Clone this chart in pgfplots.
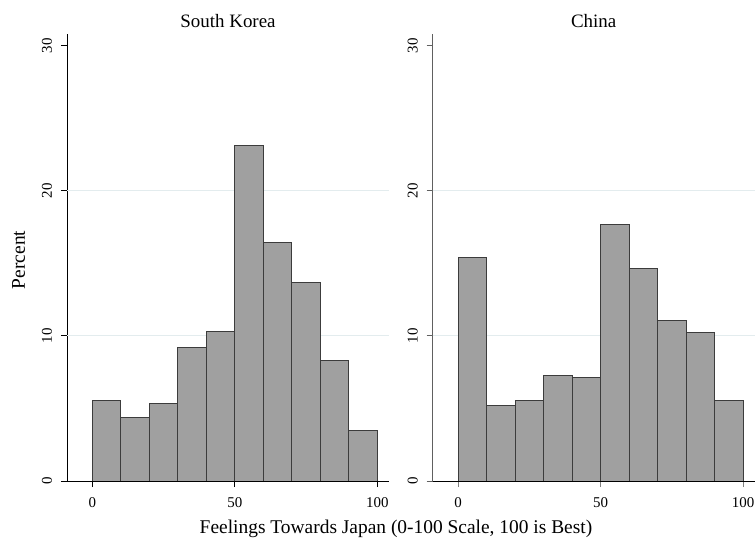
\documentclass[border=0pt]{standalone}
\usepackage{fontspec}
\setmainfont{Liberation Serif}
\usepackage{pgfplots}
\pgfplotsset{compat=1.18}
\definecolor{barfill}{HTML}{A0A0A0}
\definecolor{baredge}{HTML}{3C3C3C}
\definecolor{gridc}{HTML}{E3ECEE}
\definecolor{axgray}{HTML}{606060}
\pgfplotsset{
 panel/.style={
  scale only axis, width=322bp, height=447bp,
  xmin=-8.9, xmax=104.1, ymin=0, ymax=30.8,
  axis x line*=bottom, axis y line*=left,
  axis line style={-, line width=0.9bp},
  xtick={0,50,100}, ytick={0,10,20,30},
  tick align=outside, major tick length=6bp,
  tick style={line width=0.9bp},
  /pgf/number format/assume math mode=true,
  tick label style={font=\fontsize{15}{18}\selectfont},
  xticklabel style={anchor=base, inner sep=0pt},
  xticklabel shift=20bp,
  yticklabel style={rotate=90, anchor=base, inner sep=0pt},
  yticklabel shift=9bp,
  extra y ticks={10,20}, extra y tick labels={},
  extra y tick style={grid=major, major tick length=0pt},
  grid style={gridc, line width=0.8bp},
  title style={font=\fontsize{19}{22}\selectfont, at={(0.5,1)}, anchor=base, yshift=1bp},
 }
}
\begin{document}
\begin{tikzpicture}
\useasboundingbox (-67bp,-59bp) rectangle (689bp,481bp);
\begin{axis}[panel, at={(0,0)}, anchor=south west, title={South Korea},
  axis line style={black}, tick style={black}]
\addplot[ybar interval, fill=barfill, draw=baredge, line width=0.9bp] coordinates {
(0,5.57) (10,4.38) (20,5.35) (30,9.20) (40,10.32) (50,23.1) (60,16.43) (70,13.68) (80,8.31) (90,3.49) (100,3.49)};
\end{axis}
\begin{axis}[panel, at={(365.7bp,0)}, anchor=south west, title={China},
  y axis line style={axgray}, ytick style={axgray}]
\addplot[ybar interval, fill=barfill, draw=baredge, line width=0.9bp] coordinates {
(0,15.40) (10,5.23) (20,5.57) (30,7.27) (40,7.13) (50,17.67) (60,14.66) (70,11.05) (80,10.23) (90,5.57) (100,5.57)};
\end{axis}
\node[font=\fontsize{19.5}{23}\selectfont, anchor=base] at (329bp,-52bp) {Feelings Towards Japan (0-100 Scale, 100 is Best)};
\node[font=\fontsize{19.5}{23}\selectfont, rotate=90, anchor=base] at (-42bp,221bp) {Percent};
\end{tikzpicture}
\end{document}
